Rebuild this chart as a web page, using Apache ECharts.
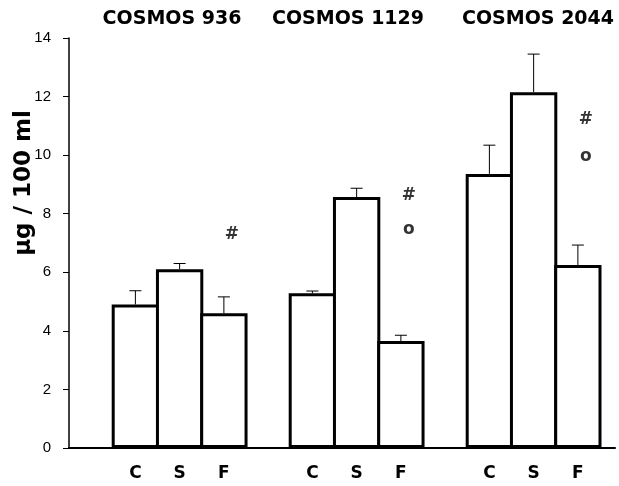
<!DOCTYPE html>
<html>
<head>
<meta charset="utf-8">
<script src="https://cdn.jsdelivr.net/npm/echarts@6/dist/echarts.min.js"></script>
<style>html,body{margin:0;padding:0;background:#fff}#chart{width:619px;height:486px}</style>
</head>
<body>
<div id="chart"></div>
<script>
const categories = ['', 'C', 'S', 'F', '', 'C', 'S', 'F', '', 'C', 'S', 'F'];
const means  = [null, 4.9, 6.1, 4.6, null, 5.28, 8.57, 3.65, null, 9.36, 12.15, 6.25];
const errors = [null, 0.47, 0.2, 0.56, null, 0.08, 0.3, 0.2, null, 0.98, 1.3, 0.68];
const groupTitles = ['COSMOS 936', 'COSMOS 1129', 'COSMOS 2044'];
const markCats = [3, 7, 7, 11, 11];
const markValues = [7.3, 8.63, 7.47, 11.2, 9.95];
const markTexts = ['#', '#', 'o', '#', 'o'];
const yAxisTitle = 'μg / 100 ml';

const FONT = '"Liberation Sans", Arial, Helvetica, sans-serif';
const WIDE = '"DejaVu Sans", "Liberation Sans", sans-serif';
const chart = echarts.init(document.getElementById('chart'), null, {renderer: 'canvas'});

const errData = [];
means.forEach((m, i) => { if (m != null) errData.push([i, m, errors[i]]); });
const markData = markCats.map((c, i) => [c, markValues[i], markTexts[i]]);

const titleX = [172, 348, 538];

const option = {
  animation: false,
  backgroundColor: '#fff',
  grid: [
    {left: 69, right: 19, top: 38, bottom: 38},
    {left: 69, right: 4, top: 38, bottom: 38}
  ],
  xAxis: [
    {
      type: 'category', gridIndex: 0, data: categories,
      axisLine: {lineStyle: {color: '#000', width: 2}},
      axisTick: {show: false},
      axisLabel: {interval: 0, color: '#000', fontFamily: WIDE, fontWeight: 'bold', fontSize: 17, margin: 17},
      splitLine: {show: false}
    },
    {
      type: 'value', gridIndex: 1, min: 0, max: 1,
      axisLine: {show: true, lineStyle: {color: '#000', width: 2}},
      axisTick: {show: false}, axisLabel: {show: false}, splitLine: {show: false}
    }
  ],
  yAxis: [
    {
      type: 'value', gridIndex: 0, min: 0, max: 14, interval: 2,
      axisLine: {show: true, lineStyle: {color: '#000', width: 1.5}},
      axisTick: {show: true, length: 6, lineStyle: {color: '#000', width: 1}},
      axisLabel: {color: '#000', fontFamily: FONT, fontSize: 15, margin: 18},
      splitLine: {show: false}
    },
    {type: 'value', gridIndex: 1, show: false, min: 0, max: 14}
  ],
  graphic: [
    ...groupTitles.map((t, i) => ({
      type: 'text', x: titleX[i], y: 19,
      style: {text: t, textAlign: 'center', textVerticalAlign: 'middle',
        font: 'bold 19px ' + WIDE, fill: '#000'}
    })),
    {
      type: 'text', x: 24, y: 183, rotation: Math.PI / 2,
      style: {text: yAxisTitle, textAlign: 'center', textVerticalAlign: 'middle',
        font: 'bold 23px ' + WIDE, fill: '#000'}
    }
  ],
  series: [
    {
      type: 'bar', xAxisIndex: 0, yAxisIndex: 0, data: means,
      barWidth: '107%',
      itemStyle: {color: '#fff', borderColor: '#000', borderWidth: 3},
      z: 2
    },
    {
      type: 'custom', xAxisIndex: 0, yAxisIndex: 0, data: errData, z: 1,
      renderItem: function (params, api) {
        const x = api.value(0), m = api.value(1), e = api.value(2);
        const p0 = api.coord([x, m]);
        const p1 = api.coord([x, m + e]);
        const hw = 6;
        return {
          type: 'group',
          children: [
            {type: 'line', shape: {x1: p0[0], y1: p0[1], x2: p1[0], y2: p1[1]}, style: {stroke: '#000', lineWidth: 1}},
            {type: 'line', shape: {x1: p1[0] - hw, y1: p1[1], x2: p1[0] + hw, y2: p1[1]}, style: {stroke: '#000', lineWidth: 1}}
          ]
        };
      }
    },
    {
      type: 'scatter', xAxisIndex: 0, yAxisIndex: 0, data: markData,
      symbolSize: 0,
      label: {
        show: true, position: 'inside', offset: [8, 0],
        formatter: p => p.data[2],
        color: '#000', fontFamily: WIDE, fontWeight: 'bold', fontSize: 17
      }
    }
  ]
};
chart.setOption(option);
</script>
</body>
</html>
